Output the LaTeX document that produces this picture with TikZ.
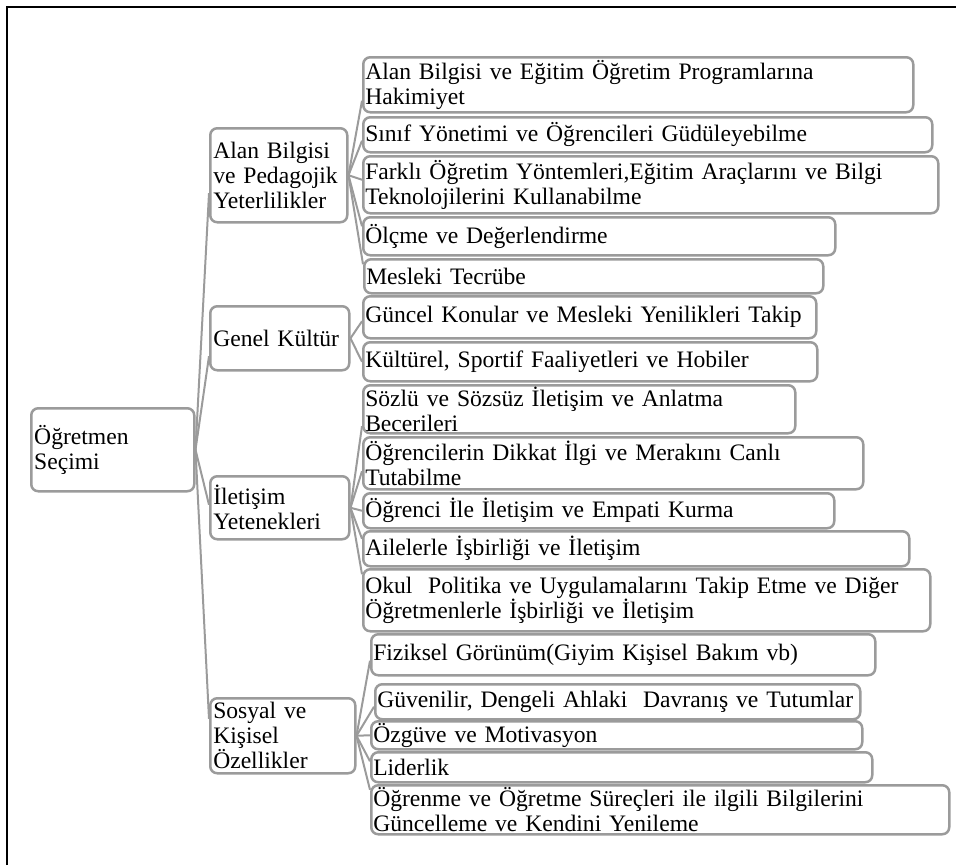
\documentclass[tikz,border=0pt]{standalone}
\usepackage{fontspec}
\setmainfont{Liberation Serif}
\definecolor{boxgray}{RGB}{155,155,155}
\tikzset{
    boxbase/.style={draw=boxgray, line width=2.5pt, rounded corners=7pt, fill=white,
        anchor=north west, align=left, inner xsep=3pt, inner ysep=0pt,
        font=\fontsize{23.6}{25}\selectfont},
    midbox/.style 2 args={boxbase, text width=#1, minimum height=#2},
    leafbox/.style 2 args={boxbase, inner xsep=2pt, text width=#1, minimum height=#2},
    conn/.style={draw=boxgray, line width=2pt}
}
\begin{document}
\begin{tikzpicture}[x=1pt,y=-1pt]
    \useasboundingbox (0,0) rectangle (956,865);
    \draw[line width=2.5pt] (7,865) -- (7,7) -- (956,7);
    % root and main branches
    \node[midbox={157pt}{83pt}] (secim) at (30,407) {Öğretmen\\Seçimi};
    \node[midbox={131pt}{94pt}] (alan) at (209,127) {Alan Bilgisi\\ve Pedagojik\\Yeterlilikler};
    \node[midbox={133pt}{64pt}] (kultur) at (209,305) {Genel Kültür};
    \node[midbox={133pt}{63pt}] (iletisim) at (209,475) {İletişim\\Yetenekleri};
    \node[midbox={139pt}{75pt}] (sosyal) at (209,697) {Sosyal ve\\Kişisel\\Özellikler};
    % leaves
    \node[leafbox={546pt}{55pt}] (a1) at (362,56) {Alan Bilgisi ve Eğitim Öğretim Programlarına\\Hakimiyet};
    \node[leafbox={565pt}{35pt}] (a2) at (362,116) {Sınıf Yönetimi ve Öğrencileri Güdüleyebilme};
    \node[leafbox={571pt}{57pt}] (a3) at (362,155) {Farklı Öğretim Yöntemleri,Eğitim Araçlarını ve Bilgi\\Teknolojilerini Kullanabilme};
    \node[leafbox={468pt}{38pt}] (a4) at (362,216) {Ölçme ve Değerlendirme};
    \node[leafbox={455pt}{34pt}] (a5) at (363,258) {Mesleki Tecrübe};
    \node[leafbox={449pt}{42pt}] (k1) at (362,295) {Güncel Konular ve Mesleki Yenilikleri Takip};
    \node[leafbox={450pt}{39pt}] (k2) at (362,341) {Kültürel, Sportif Faaliyetleri ve Hobiler};
    \node[leafbox={428pt}{48pt}] (i1) at (362,384) {Sözlü ve Sözsüz İletişim ve Anlatma\\Becerileri};
    \node[leafbox={496pt}{52pt}] (i2) at (362,436) {Öğrencilerin Dikkat İlgi ve Merakını Canlı\\Tutabilme};
    \node[leafbox={467pt}{35pt}] (i3) at (362,492) {Öğrenci İle İletişim ve Empati Kurma};
    \node[leafbox={542pt}{35pt}] (i4) at (362,530) {Ailelerle İşbirliği ve İletişim};
    \node[leafbox={563pt}{62pt}] (i5) at (362,568) {Okul\ \ Politika ve Uygulamalarını Takip Etme ve Diğer\\Öğretmenlerle İşbirliği ve İletişim};
    \node[leafbox={500pt}{41pt}] (s1) at (370,633) {Fiziksel Görünüm(Giyim Kişisel Bakım vb)};
    \node[leafbox={481pt}{35pt}] (s2) at (374,683) {\mbox{Güvenilir, Dengeli Ahlaki\ \ Davranış ve Tutumlar}};
    \node[leafbox={487pt}{28pt}] (s3) at (370,720) {Özgüve ve Motivasyon};
    \node[leafbox={497pt}{30pt}] (s4) at (370,751) {Liderlik};
    \node[leafbox={574pt}{49pt}] (s5) at (370,784) {Öğrenme ve Öğretme Süreçleri ile ilgili Bilgilerini\\Güncelleme ve Kendini Yenileme};
    % connectors
    \draw[conn] (secim.east) -- ([yshift=-18pt]alan.west);
    \draw[conn] (secim.east) -- ([yshift=-18pt]kultur.west);
    \draw[conn] (secim.east) -- ([yshift=3pt]iletisim.west);
    \draw[conn] (secim.east) -- ([yshift=17pt]sosyal.west);
    \draw[conn] (alan.east) -- ([yshift=-16pt]a1.west);
    \draw[conn] (alan.east) -- ([yshift=-6pt]a2.west);
    \draw[conn] (alan.east) -- ([yshift=5pt]a3.west);
    \draw[conn] (alan.east) -- ([yshift=10pt]a4.west);
    \draw[conn] (alan.east) -- ([yshift=12pt]a5.west);
    \draw[conn] (kultur.east) -- ([yshift=-4pt]k1.west);
    \draw[conn] (kultur.east) -- (k2.west);
    \draw[conn] (iletisim.east) -- ([yshift=-17pt]i1.west);
    \draw[conn] (iletisim.east) -- ([yshift=-8pt]i2.west);
    \draw[conn] (iletisim.east) -- (i3.west);
    \draw[conn] (iletisim.east) -- ([yshift=10pt]i4.west);
    \draw[conn] (iletisim.east) -- ([yshift=26pt]i5.west);
    \draw[conn] (sosyal.east) -- ([yshift=-6pt]s1.west);
    \draw[conn] (sosyal.east) -- ([yshift=-5pt]s2.west);
    \draw[conn] (sosyal.east) -- (s3.west);
    \draw[conn] (sosyal.east) -- ([yshift=6pt]s4.west);
    \draw[conn] (sosyal.east) -- ([yshift=20pt]s5.west);
\end{tikzpicture}
\end{document}
